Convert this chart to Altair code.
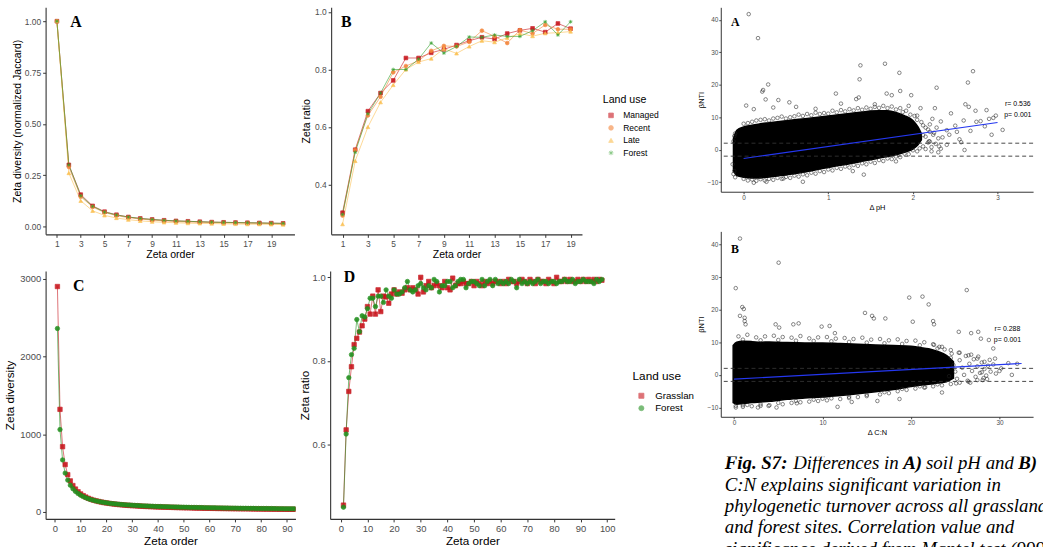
import altair as alt
import pandas as pd

SANS = "Liberation Sans"
SERIF = "Liberation Serif"

# ---------------- panel A / B data (4 land-use classes) ----------------
land_use_4 = ["Managed", "Recent", "Late", "Forest"]
colors_4 = ["#C8161D", "#F4853A", "#FBBF4F", "#33A02C"]
shapes_4 = ["square", "circle", "triangle-up",
            "M-1,0L1,0M0,-1L0,1M-0.72,-0.72L0.72,0.72M-0.72,0.72L0.72,-0.72"]

order_a = list(range(1, 21))
zeta_managed = [1.0, 0.30, 0.155, 0.100, 0.072, 0.057, 0.046, 0.039, 0.034, 0.030,
                0.027, 0.025, 0.023, 0.021, 0.020, 0.019, 0.018, 0.017, 0.016, 0.015]
zeta_recent = [1.0, 0.29, 0.145, 0.095, 0.068, 0.053, 0.043, 0.036, 0.031, 0.027,
               0.024, 0.022, 0.020, 0.019, 0.018, 0.017, 0.016, 0.015, 0.014, 0.013]
zeta_late = [1.0, 0.26, 0.125, 0.076, 0.054, 0.041, 0.033, 0.027, 0.023, 0.020,
             0.018, 0.016, 0.015, 0.014, 0.013, 0.012, 0.011, 0.011, 0.010, 0.009]
zeta_forest = [1.0, 0.30, 0.150, 0.098, 0.070, 0.056, 0.046, 0.039, 0.034, 0.030,
               0.027, 0.025, 0.023, 0.021, 0.020, 0.019, 0.018, 0.017, 0.016, 0.015]

order_b = list(range(1, 20))
ratio_managed = [0.302, 0.521, 0.655, 0.718, 0.762, 0.840, 0.840, 0.858, 0.870, 0.885,
                 0.900, 0.912, 0.906, 0.925, 0.936, 0.943, 0.930, 0.960, 0.942]
ratio_recent = [0.292, 0.520, 0.640, 0.705, 0.790, 0.812, 0.830, 0.865, 0.882, 0.880,
                0.896, 0.935, 0.915, 0.892, 0.937, 0.925, 0.955, 0.940, 0.940]
ratio_late = [0.262, 0.482, 0.600, 0.686, 0.746, 0.800, 0.826, 0.838, 0.872, 0.856,
              0.880, 0.900, 0.895, 0.910, 0.925, 0.916, 0.926, 0.928, 0.932]
ratio_forest = [0.296, 0.512, 0.646, 0.718, 0.800, 0.800, 0.836, 0.892, 0.857, 0.880,
                0.913, 0.912, 0.920, 0.915, 0.915, 0.935, 0.966, 0.920, 0.966]

# ---------------- panel C / D data (2 land-use classes) ----------------
land_use_2 = ["Grasslan", "Forest"]
colors_2 = ["#C8161D", "#23901F"]
shapes_2 = ["square", "circle"]

order_c = list(range(1, 99))
zeta_grass = [2900, 1320, 840, 610, 480, 400, 340, 295, 260, 232,
              210, 192, 176, 163, 152, 143, 135, 128, 121, 116,
              111, 106, 102, 98, 95, 92, 89, 86, 84, 82,
              80, 78, 76, 74, 72, 71, 69, 68, 66, 65,
              64, 63, 62, 61, 60, 59, 58, 57, 56, 55,
              54, 54, 53, 52, 51, 51, 50, 49, 49, 48,
              47, 47, 46, 46, 45, 45, 44, 44, 43, 43,
              42, 42, 41, 41, 41, 40, 40, 39, 39, 39,
              38, 38, 38, 37, 37, 37, 36, 36, 36, 35,
              35, 35, 35, 34, 34, 34, 34, 33]
zeta_forest_c = [2360, 1060, 670, 500, 410, 345, 300, 265, 238, 216,
                 198, 183, 170, 159, 150, 142, 135, 128, 123, 118,
                 113, 109, 105, 102, 99, 96, 93, 91, 89, 87,
                 85, 83, 81, 79, 78, 76, 75, 74, 72, 71,
                 70, 69, 68, 67, 66, 65, 64, 63, 62, 62,
                 61, 60, 59, 59, 58, 57, 57, 56, 55, 55,
                 54, 54, 53, 53, 52, 51, 51, 50, 50, 50,
                 49, 49, 48, 48, 47, 47, 47, 46, 46, 45,
                 45, 45, 44, 44, 44, 43, 43, 43, 42, 42,
                 42, 41, 41, 41, 41, 40, 40, 40]

order_d = list(range(1, 99))
ratio_grass = [0.455, 0.635, 0.727, 0.786, 0.839, 0.854, 0.869, 0.884, 0.900, 0.930,
               0.912, 0.955, 0.912, 0.970, 0.918, 0.955, 0.953, 0.938, 0.960, 0.970,
               0.960, 0.965, 0.962, 0.970, 0.975, 0.970, 0.975, 0.970, 0.960, 1.000,
               0.965, 0.980, 0.990, 0.975, 0.980, 0.985, 0.980, 0.975, 0.990, 0.975,
               0.970, 0.998, 0.980, 0.985, 0.985, 0.990, 0.985, 0.985, 0.990, 0.980,
               0.990, 0.985, 0.980, 0.990, 0.985, 0.990, 0.985, 0.990, 0.990, 0.985,
               0.990, 0.985, 0.995, 0.990, 0.990, 0.985, 0.990, 0.995, 0.990, 0.985,
               0.995, 0.990, 0.985, 0.995, 0.990, 0.990, 0.985, 0.995, 0.990, 0.985,
               1.000, 0.990, 0.990, 0.995, 0.990, 0.995, 0.990, 0.990, 0.995, 0.990,
               0.995, 0.990, 0.995, 0.990, 0.995, 0.990, 0.995, 0.993]
ratio_forest_d = [0.450, 0.625, 0.760, 0.815, 0.830, 0.899, 0.870, 0.908, 0.905, 0.925,
                  0.950, 0.950, 0.930, 0.955, 0.955, 0.940, 0.970, 0.955, 0.950, 0.970,
                  0.960, 0.960, 0.965, 0.975, 0.990, 0.970, 0.965, 0.970, 0.980, 0.985,
                  0.975, 0.970, 0.980, 0.975, 0.995, 0.990, 0.965, 0.980, 0.980, 0.990,
                  0.990, 0.975, 0.980, 0.990, 0.995, 0.995, 0.975, 0.985, 0.990, 0.990,
                  0.985, 0.980, 0.995, 0.980, 0.990, 0.995, 0.980, 0.995, 0.985, 0.990,
                  0.985, 0.990, 0.985, 0.995, 0.990, 0.975, 0.995, 0.985, 0.990, 0.985,
                  0.990, 0.985, 0.990, 0.995, 0.985, 0.990, 0.990, 0.985, 0.990, 0.990,
                  0.985, 0.990, 0.990, 0.995, 0.990, 0.990, 0.995, 0.985, 0.990, 0.990,
                  0.995, 0.990, 0.990, 0.990, 0.985, 0.995, 0.990, 0.995]

# ---------------- scatter panel A (delta pH) ----------------
sa_env_x = [-0.12, -0.08, 0.0, 0.1, 0.2, 0.3, 0.4, 0.5, 0.6, 0.7, 0.8, 0.9, 1.0,
            1.1, 1.2, 1.3, 1.4, 1.5, 1.6, 1.7, 1.8, 1.9, 2.0, 2.06, 2.1]
sa_env_lo = [-6.5, -8.0, -8.5, -8.7, -8.7, -8.4, -8.1, -7.8, -7.4, -7.0, -6.5, -6.0, -5.5,
             -5.0, -4.6, -4.1, -3.6, -3.1, -2.6, -2.1, -1.6, -0.8, 0.2, 1.5, 3.0]
sa_env_hi = [3.5, 6.0, 7.0, 7.5, 8.0, 8.3, 8.6, 8.9, 9.2, 9.5, 9.8, 10.1, 10.4,
             10.7, 11.0, 11.3, 11.6, 11.9, 12.0, 12.0, 11.5, 10.5, 9.0, 7.0, 5.0]
sa_pt_x = [0.06, 0.17, 0.29, 0.23, 0.22, 0.03, 0.26, 0.41, 0.54, 1.09, 1.38, 1.37, 1.36,
           1.33, 1.67, 1.84, 1.85, 1.69, 1.75, 1.98, 2.28, 2.71, 2.65, 2.62, 2.66, 2.74,
           2.87, 2.98, 3.06, 2.93, 2.61, 2.57, 2.45, 2.33, 2.26, 2.09, 2.31, 2.33, 2.19,
           1.80, 1.42, 1.29, 0.70, 0.47, 0.27, 0.12, -0.11, -0.12, 2.52, 2.80, 2.90,
           2.40, 2.15, 2.22, 2.05, 0.12, 0.35, 0.62, 0.85, 1.15, 1.55, 1.95,
           -0.10, 0.05, 0.15, 0.25, 0.35, 0.45, 0.55, 0.65, 0.75, 0.85, 0.95, 1.05,
           1.15, 1.25, 1.35, 1.45, 1.55, 1.65, 1.75, 1.85, 1.92, 2.02, 2.10, 2.15, 2.20,
           -0.13, -0.10, 0.05, 0.15, 0.25, 0.35, 0.45, 0.55, 0.65, 0.75, 0.85, 0.95,
           1.05, 1.15, 1.25, 1.35, 1.45, 1.55, 1.65, 1.75, 1.85, 1.95, 2.05, 2.12, 2.20,
           -0.11, 0.0, 0.1, 0.2, 0.3, 0.4, 0.5, 0.6, 0.7, 0.8, 0.9, 1.0, 1.1, 1.2, 1.3,
           1.4, 1.5, 1.6, 1.7, 1.8, 1.88, 1.97, 2.05, 2.12, 2.18, 2.24, 2.30, 2.27, 2.22,
           -0.12, 0.0, 0.1, 0.2, 0.3, 0.4, 0.5, 0.6, 0.7, 0.8, 0.9, 1.0, 1.1, 1.2, 1.3,
           1.4, 1.5, 1.6, 1.7, 1.8, 1.9, 2.0, 2.08,
           2.12, 2.18, 2.25, 2.30, 2.35, 2.20, 2.28, 2.40, 2.43, 2.50, 2.55, 2.60, 2.68,
           2.75, 2.85, 2.95, 2.15, 2.23]
sa_pt_y = [41.8, 34.4, 20.1, 18.4, 17.9, 13.6, 15.5, 15.3, 14.6, 17.3, 26.0, 21.7, 16.1,
           15.6, 26.5, 23.7, 18.1, 17.3, 16.8, 16.8, 19.1, 24.2, 20.7, 14.0, 13.2, 12.0,
           12.2, 10.5, 6.1, 4.6, -0.1, 2.3, 11.2, 8.7, 12.8, 12.8, 1.0, 0.3, 2.6,
           -3.6, -7.7, -6.6, -9.9, -8.9, -9.9, -10.2, -6.6, 2.6, 5.5, 8.8, 9.5,
           6.0, 4.0, -0.5, 10.5, 12.5, 13.0, 13.2, 12.6, 14.2, 14.0, 13.5,
           5.0, 8.2, 9.0, 9.4, 9.6, 10.2, 10.0, 10.8, 11.0, 11.4, 11.3, 12.0,
           12.2, 12.5, 12.8, 13.0, 13.2, 13.5, 13.3, 12.8, 12.0, 10.4, 8.5, 6.8, 5.5,
           -4.5, -8.5, -9.5, -9.6, -9.5, -9.3, -9.0, -8.7, -8.3, -7.9, -7.4, -6.9,
           -6.4, -5.9, -5.5, -5.0, -4.5, -4.1, -3.5, -2.9, -2.3, -1.4, -0.5, 1.0, 2.5,
           4.2, 8.0, 8.6, 9.2, 9.0, 9.8, 9.6, 10.3, 10.4, 10.6, 11.0, 11.1, 11.5, 11.8,
           12.1, 12.3, 12.6, 12.9, 12.8, 12.4, 11.6, 10.8, 9.2, 7.5, 6.2, 4.6, 3.5,
           1.8, 0.8,
           -7.5, -9.0, -9.2, -9.1, -9.0, -8.7, -8.4, -8.0, -7.6, -7.1, -6.6, -6.1,
           -5.6, -5.2, -4.7, -4.2, -3.7, -3.2, -2.7, -2.1, -1.2, -0.2, 0.4,
           4.5, 2.2, 5.2, -0.8, 3.8, 7.8, 6.8, 1.5, 4.6, 7.4, 3.2, 9.0, 5.8, 8.6, 7.2,
           9.8, 0.2, 9.5]
sa_fit_x = [0.0, 3.0]
sa_fit_y = [-2.7, 8.4]

# ---------------- scatter panel B (delta C:N) ----------------
sb_env_x = [-0.1, 0.3, 1, 2, 3, 4, 5, 6, 8, 10, 12, 14, 16, 18, 20, 21, 22, 23, 24, 24.8]
sb_env_lo = [-8.5, -9.0, -8.8, -8.5, -8.3, -8.1, -7.8, -7.5, -7.1, -6.8, -6.3, -5.8,
             -5.2, -4.5, -3.6, -3.2, -2.9, -2.5, -2.1, -1.0]
sb_env_hi = [9.0, 10.0, 10.3, 10.2, 10.0, 10.1, 10.0, 9.9, 9.8, 9.8, 9.6, 9.4, 9.2,
             9.0, 8.8, 8.4, 8.0, 7.2, 6.0, 4.0]
sb_pt_x = [0.67, 5.04, 0.19, 0.93, 1.1, 0.67, 1.2, 1.2, 1.3, 4.7, 5.1, 6.7, 7.3, 9.9,
           10.8, 11.4, 14.8, 15.6, 15.8, 17.1, 19.8, 21.3, 22.0, 22.5, 22.6, 20.2, 26.3,
           25.4, 26.8, 27.6, 27.9, 28.8, 29.3, 29.5, 30.0, 31.0, 31.4, 28.6, 28.0, 23.5,
           21.6, 18.7, 16.2, 13.3, 11.7, 10.0, 7.1, 4.8, 3.9, 2.7, 1.5, 0.19, 32.0,
           0.5, 1.5, 2.5, 3.5, 4.5, 5.5, 6.5, 7.5, 8.5, 9.5, 10.5, 11.5, 12.5, 13.5,
           14.5, 15.5, 16.5, 17.5, 18.5, 19.5, 20.5, 21.5, 22.5, 23.5, 24.5, 25.5, 26.5,
           27.5, 28.3,
           0.2, 1.0, 2.0, 3.0, 4.0, 5.5, 6.5, 7.5, 8.5, 9.5, 10.5, 12.0, 13.0, 14.0,
           15.0, 16.5, 17.5, 18.5, 19.5, 20.5, 21.5, 22.5, 23.5, 24.5, 25.5, 26.5,
           27.5, 28.2,
           24.5, 24.8, 25.0, 25.2, 25.5, 25.8, 26.0, 26.2, 26.4, 26.6, 26.9, 27.1, 27.3,
           27.5, 27.8, 28.0, 28.3, 28.5, 28.7, 29.0, 29.3, 29.6, 30.2, 24.3, 24.6, 25.4,
           26.8, 27.6, 28.9, 25.1, 26.7, 28.1, 23.2, 23.8, 22.6,
           1.0, 3.0, 5.0, 7.0, 9.0, 11.0, 13.0, 15.0, 17.0, 19.0, 21.0, 23.0,
           1.0, 3.0, 5.0, 7.0, 9.0, 11.0, 13.0, 15.0, 17.0, 19.0, 21.0, 23.0]
sb_pt_y = [41.8, 34.4, 26.6, 20.8, 20.2, 18.1, 17.5, 16.5, 15.5, 15.5, 14.5, 15.5,
           15.8, 14.8, 15.0, 12.8, 19.0, 18.1, 17.3, 17.3, 23.7, 24.0, 21.6, 16.5, 15.5,
           16.3, 26.0, 13.2, 12.8, 13.2, 11.1, 10.7, 8.1, 5.0, 1.2, 3.6, 0.0, -1.3,
           0.8, -5.4, -3.8, -7.4, -8.0, -8.3, -9.8, -7.3, -8.7, -10.0, -9.5, -10.0,
           -9.2, -9.5, 3.4,
           11.8, 12.3, 11.5, 11.8, 12.0, 11.6, 11.4, 11.9, 11.2, 11.5, 11.6, 11.1,
           11.3, 11.0, 11.4, 10.8, 11.0, 10.6, 10.9, 10.4, 10.5, 10.0, 9.4, 8.6, 7.6,
           6.8, 6.0, 5.0, 4.0,
           -10.0, -9.8, -9.6, -9.5, -9.3, -9.0, -8.6, -8.4, -8.2, -8.0, -7.8, -7.4,
           -7.1, -6.8, -6.5, -6.0, -5.6, -5.0, -4.6, -4.2, -3.9, -3.5, -3.2, -2.8,
           -2.4, -2.1, -1.6, -1.0,
           5.2, 3.0, 1.0, -1.2, 4.5, 2.2, 0.0, 5.8, -1.8, 3.4, 1.2, 4.8, -0.6,
           2.6, 0.6, 3.8, 1.8, -0.2, 2.8, 1.0, 3.2, 0.4, 2.0, -0.4, 6.5, 6.8,
           6.2, 5.6, 4.6, -2.6, -2.4, -1.6, 8.6, 7.8, 9.2,
           10.8, 10.6, 10.7, 10.5, 10.4, 10.3, 10.1, 9.9, 9.7, 9.5, 9.1, 8.1,
           -9.3, -9.0, -8.6, -8.0, -7.6, -7.2, -6.7, -6.1, -5.3, -4.3, -3.5, -2.9]
sb_fit_x = [0.0, 32.5]
sb_fit_y = [-1.3, 3.5]

null_band = [-2, 2]

caption_lines = [
    "C:N explains significant variation in",
    "phylogenetic turnover across all grassland",
    "and forest sites. Correlation value and",
    "significance derived from Mantel test (999",
]
caption_first = ["Fig. S7:", "Differences in", "A)", "soil pH and", "B)"]
caption_first_bold = [True, False, True, False, True]


# ---------------- helpers ----------------
def long_df(orders, cats, series):
    rows = []
    for cat, vals in zip(cats, series):
        for o, v in zip(orders, vals):
            rows.append({"order": o, "value": v, "Land use": cat})
    return pd.DataFrame(rows)


def make_axis(values, fmt, title, lab, tit, tpad, tick=3, lpad=2, dwidth=1.1):
    return alt.Axis(values=values, format=fmt, title=title, grid=False,
                    labelFontSize=lab, titleFontSize=tit, titlePadding=tpad,
                    labelPadding=lpad, tickSize=tick, tickColor="#333333",
                    domainColor="#333333", domainWidth=dwidth, tickWidth=dwidth * 0.9,
                    labelColor="#4D4D4D", titleColor="black", labelFont=SANS,
                    titleFont=SANS, titleFontWeight="normal", labelFlush=False,
                    labelOverlap=False)


def make_legend(lx, ly, tsize, lsize, tpad, rpad, loff, soff, ssize):
    return alt.Legend(title="Land use", orient="none", legendX=lx, legendY=ly,
                      titleFontSize=tsize, titleFont=SANS, titleFontWeight="normal",
                      titleColor="black", labelFontSize=lsize, labelFont=SANS,
                      labelColor="black", titlePadding=tpad, rowPadding=rpad,
                      labelOffset=loff, symbolOffset=soff, symbolSize=ssize,
                      padding=0, symbolStrokeWidth=0.8)


def zeta_panel(df, cats, colors, shapes, xdom, ydom, xvals, yvals, yfmt, ytitle,
               w, h, lab, tit, xtpad, ytpad, psize, leg, letter, letter_xy,
               letter_size, clip=False):
    xs = alt.Scale(domain=xdom, nice=False, zero=False)
    ys = alt.Scale(domain=ydom, nice=False, zero=False)
    xe = alt.X("order:Q", scale=xs, axis=make_axis(xvals, "d", "Zeta order", lab, tit, xtpad))
    ye = alt.Y("value:Q", scale=ys, axis=make_axis(yvals, yfmt, ytitle, lab, tit, ytpad))
    col = alt.Scale(domain=cats, range=colors)
    shp = alt.Scale(domain=cats, range=shapes)
    lines = alt.Chart(df).mark_line(strokeWidth=1, opacity=0.6, clip=clip).encode(
        x=xe, y=ye,
        stroke=alt.Stroke("Land use:N", scale=col, legend=leg))
    pts = alt.Chart(df).mark_point(filled=True, size=psize, strokeWidth=0.7,
                                   opacity=0.9, clip=clip).encode(
        x=xe, y=ye,
        fill=alt.Fill("Land use:N", scale=col, legend=leg),
        stroke=alt.Stroke("Land use:N", scale=col, legend=leg),
        shape=alt.Shape("Land use:N", scale=shp, legend=leg))
    ldf = pd.DataFrame({"order": [letter_xy[0]], "value": [letter_xy[1]], "label": [letter]})
    let = alt.Chart(ldf).mark_text(font=SERIF, fontWeight="bold", fontSize=letter_size,
                                   color="black").encode(x=xe, y=ye, text="label:N")
    return alt.layer(lines, pts, let).properties(width=w, height=h)


def scatter_panel(env_x, env_lo, env_hi, pt_x, pt_y, fit_x, fit_y, xdom, ydom,
                  xvals, xtitle, rtext, letter, letter_xy, text_xy, w, h):
    xs = alt.Scale(domain=xdom, nice=False, zero=False)
    ys = alt.Scale(domain=ydom, nice=False, zero=False)
    xe = alt.X("x:Q", scale=xs, axis=make_axis(xvals, "d", xtitle, 6.5, 7.5, 2, tick=2, lpad=1, dwidth=1.0))
    ye = alt.Y("y:Q", scale=ys, axis=make_axis([-10, 0, 10, 20, 30, 40], "d", "βNTI", 6.5, 7.5, 1, tick=2, lpad=1, dwidth=1.0))
    env = pd.DataFrame({"x": env_x, "y": env_lo, "y2": env_hi})
    area = alt.Chart(env).mark_area(color="black", stroke="black", strokeWidth=1.5,
                                    interpolate="monotone").encode(x=xe, y=ye, y2="y2:Q")
    pts = alt.Chart(pd.DataFrame({"x": pt_x, "y": pt_y})).mark_point(
        shape="circle", filled=False, color="#222222", size=13, strokeWidth=0.6,
        opacity=0.9).encode(x=xe, y=ye)
    band = alt.Chart(pd.DataFrame({"y": null_band})).mark_rule(
        color="#333333", strokeDash=[4, 3], strokeWidth=0.9).encode(y=ye)
    fit = alt.Chart(pd.DataFrame({"x": fit_x, "y": fit_y})).mark_line(
        color="#2437F0", strokeWidth=1.1).encode(x=xe, y=ye)
    tdf = pd.DataFrame({"x": [text_xy[0], text_xy[0]], "y": [text_xy[1], text_xy[2]],
                        "t": rtext})
    txt = alt.Chart(tdf).mark_text(font=SANS, fontSize=7, color="black").encode(
        x=xe, y=ye, text="t:N")
    ldf = pd.DataFrame({"x": [letter_xy[0]], "y": [letter_xy[1]], "t": [letter]})
    let = alt.Chart(ldf).mark_text(font=SERIF, fontWeight="bold", fontSize=12,
                                   color="black").encode(x=xe, y=ye, text="t:N")
    return alt.layer(area, pts, band, fit, txt, let).properties(width=w, height=h)


# ---------------- panels ----------------
df_a = long_df(order_a, land_use_4, [zeta_managed, zeta_recent, zeta_late, zeta_forest])
df_b = long_df(order_b, land_use_4, [ratio_managed, ratio_recent, ratio_late, ratio_forest])
df_c = long_df(order_c, land_use_2, [zeta_grass, zeta_forest_c])
df_d = long_df(order_d, land_use_2, [ratio_grass, ratio_forest_d])

odd_ticks = list(range(1, 20, 2))

panel_a = zeta_panel(df_a, land_use_4, colors_4, shapes_4, [0.05, 20.95], [-0.0386, 1.0676],
                     odd_ticks, [0, 0.25, 0.5, 0.75, 1.0], ".2f",
                     "Zeta diversity (normalized Jaccard)", 251, 229, 8.5, 10.6, 2, 2,
                     14, None, "A", (2.6, 0.995), 16)
leg_b = make_legend(274, 88, 10.7, 8.6, 6, 3.6, 8, 4, 22)
panel_b = zeta_panel(df_b, land_use_4, colors_4, shapes_4, [0.1, 19.9], [0.2266, 1.0162],
                     odd_ticks, [0.4, 0.6, 0.8, 1.0], ".1f", "Zeta ratio",
                     253, 229, 8.5, 10.6, 2, 3, 14, leg_b, "B", (1.3, 0.964), 16)
panel_c = zeta_panel(df_c, land_use_2, colors_2, shapes_2, [-3.58, 93.3], [-89, 3099],
                     list(range(0, 100, 10)), [0, 1000, 2000, 3000], "d", "Zeta diversity",
                     252, 250, 9.5, 11.8, 2, 4, 20, None, "C", (9.3, 2908), 16, clip=True)
leg_d = make_legend(305, 101, 11.9, 9.8, 8, 1.5, 9, 4, 26)
panel_d = zeta_panel(df_d, land_use_2, colors_2, shapes_2, [-4.0, 102.8], [0.422, 1.015],
                     list(range(0, 101, 10)), [0.6, 0.8, 1.0], ".1f", "Zeta ratio",
                     287, 250, 9.5, 11.8, 2, 2, 20, leg_d, "D", (3.3, 1.0), 16)

scat_a = scatter_panel(sa_env_x, sa_env_lo, sa_env_hi, sa_pt_x, sa_pt_y, sa_fit_x, sa_fit_y,
                       [-0.27, 3.42], [-12.97, 43.9], [0, 1, 2, 3], "Δ pH",
                       ["r= 0.536", "p= 0.001"], "A", (-0.1, 39.5), (3.24, 14.0, 10.6),
                       315, 186)
scat_b = scatter_panel(sb_env_x, sb_env_lo, sb_env_hi, sb_pt_x, sb_pt_y, sb_fit_x, sb_fit_y,
                       [-1.5, 33.8], [-12.85, 44.0], [0, 10, 20, 30], "Δ C:N",
                       ["r= 0.288", "p= 0.001"], "B", (0.1, 38.5), (30.9, 14.0, 10.7),
                       315, 187)

# ---------------- caption ----------------
cap_scale = alt.Scale(domain=[0.39, 4.81], reverse=True, nice=False, zero=False)
cap_y = alt.Y("line:Q", scale=cap_scale, axis=None)
cap_rest = alt.Chart(pd.DataFrame({"line": [2, 3, 4, 5], "t": caption_lines})).mark_text(
    align="left", baseline="alphabetic", font=SERIF, fontStyle="italic", fontSize=19,
    color="black", clip=True).encode(x=alt.value(4), y=cap_y, text="t:N")
seg_dx = [0, 69, 180, 203, 296]
cap_layers = [cap_rest]
for seg, bold, dx in zip(caption_first, caption_first_bold, seg_dx):
    cap_layers.append(
        alt.Chart(pd.DataFrame({"line": [1], "t": [seg]})).mark_text(
            align="left", baseline="alphabetic", font=SERIF, fontStyle="italic",
            fontWeight="bold" if bold else "normal", fontSize=19, color="black",
            dx=dx, clip=True).encode(x=alt.value(4), y=cap_y, text="t:N"))
caption = alt.layer(*cap_layers).properties(width=325, height=95)

# ---------------- layout ----------------
row1 = alt.hconcat(panel_a, panel_b, spacing=37, bounds="flush").resolve_scale(
    fill="independent", stroke="independent", shape="independent")
row2 = alt.hconcat(panel_c, panel_d, spacing=35, bounds="flush").resolve_scale(
    fill="independent", stroke="independent", shape="independent")
left = alt.vconcat(row1, row2, spacing=8).resolve_scale(
    fill="independent", stroke="independent", shape="independent")
right = alt.vconcat(scat_a, scat_b, caption, spacing=40, bounds="flush")

chart = alt.hconcat(left, right, spacing=2).resolve_scale(
    fill="independent", stroke="independent", shape="independent").properties(
    padding={"left": 4, "top": 5, "right": 0, "bottom": 0},
    background="white").configure_view(stroke=None)

chart.save("out.html", embed_options={"renderer": "svg", "actions": False})
